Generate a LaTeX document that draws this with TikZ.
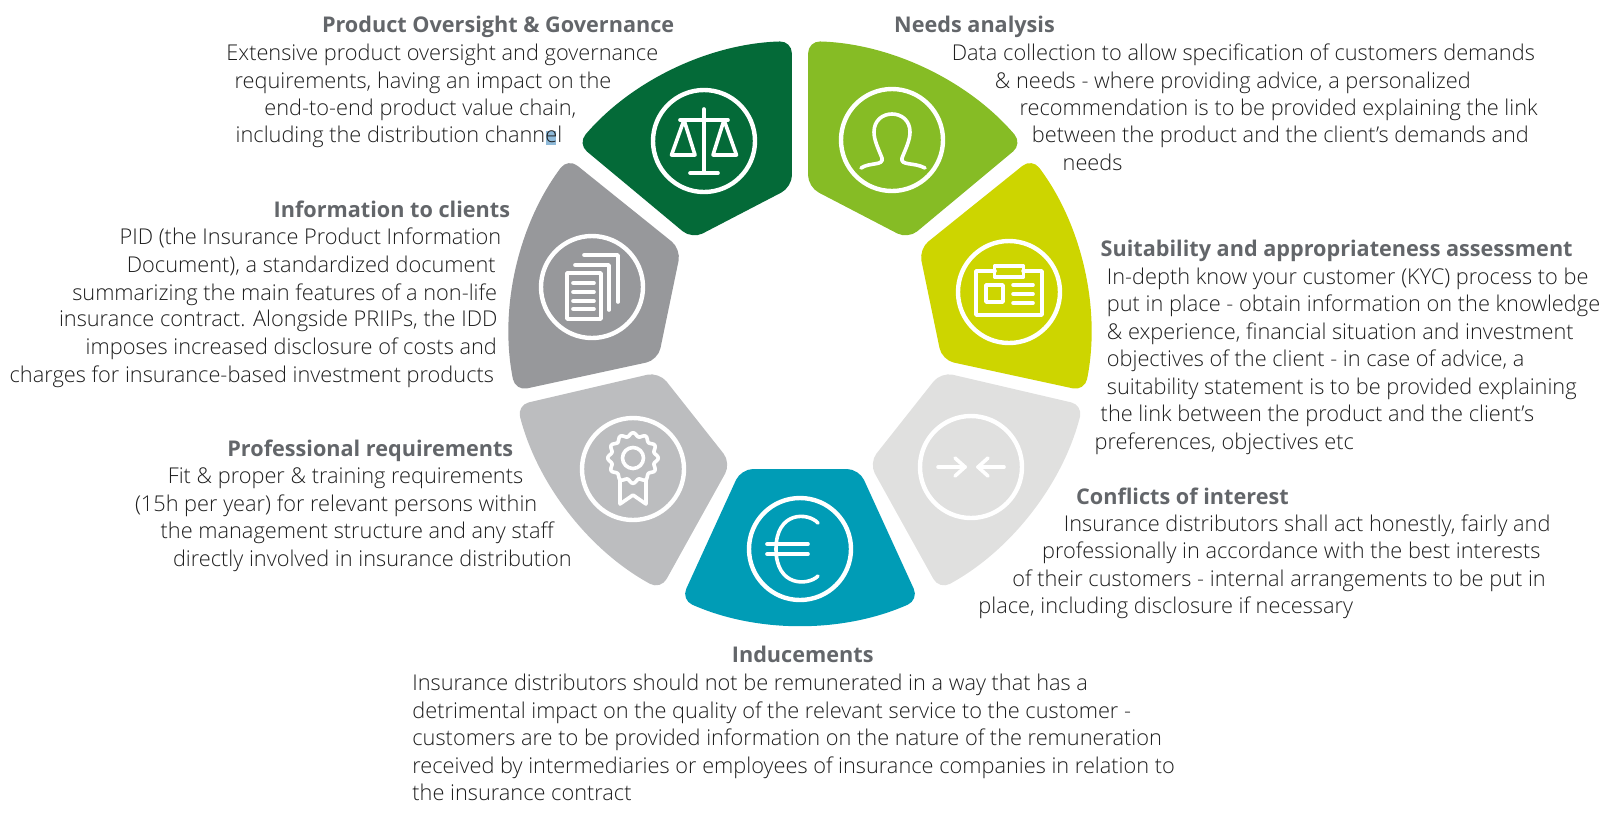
\documentclass[tikz,border=0pt]{standalone}
\usepackage{fontspec}
\usetikzlibrary{calc}
\setmainfont{Open Sans}
\newfontfamily\lightfont{Open Sans Light}
\definecolor{govgreen}{HTML}{046A38}
\definecolor{needgreen}{HTML}{86BC25}
\definecolor{suityellow}{HTML}{CDD500}
\definecolor{infogray}{HTML}{97989B}
\definecolor{profgray}{HTML}{BCBDBF}
\definecolor{confgray}{HTML}{E0E0DF}
\definecolor{indteal}{HTML}{009CB6}
\definecolor{headgray}{HTML}{63666A}
\definecolor{bodyink}{HTML}{1E1E1E}
\definecolor{selblue}{HTML}{8FBAD9}
\tikzset{
    petal/.style={rounded corners=6pt},
    ring/.style={draw=white, line width=2.2pt},
    icon/.style={draw=white, line width=1.8pt, line cap=round, line join=round},
    headtext/.style={anchor=base west, inner sep=0pt, yshift=-1.3pt, font=\fontsize{10.82pt}{12pt}\selectfont\bfseries, text=headgray},
    bodytext/.style={anchor=base west, inner sep=0pt, yshift=-1.3pt, font=\fontsize{10.88pt}{12pt}\lightfont, text=bodyink},
}
\begin{document}
\begin{tikzpicture}[x=0.5pt, y=-0.5pt]
    \useasboundingbox (0,0) rectangle (1611,816);
    \coordinate (c) at (800,333);

    % Segments
    \fill[govgreen, petal] ($(c)+(-91.6:292)$) arc[start angle=-91.6, end angle=-139.6, radius=292] -- (692,239) -- (792,187) -- cycle;
    \fill[needgreen, petal] ($(c)+(-88.4:292)$) arc[start angle=-88.4, end angle=-40.4, radius=292] -- (908,239) -- (808,187) -- cycle;
    \fill[suityellow, petal] ($(c)+(-37:290.5)$) arc[start angle=-37, end angle=11.5, radius=290.5] -- (942,360) -- (919,249) -- cycle;
    \fill[infogray, petal] ($(c)+(-143:290.5)$) arc[start angle=-143, end angle=-191.5, radius=290.5] -- (658,360) -- (681,249) -- cycle;
    \fill[confgray, petal] ($(c)+(14.3:292)$) arc[start angle=14.3, end angle=61.5, radius=292] -- (869,463) -- (941,372) -- cycle;
    \fill[profgray, petal] ($(c)+(165.7:292)$) arc[start angle=165.7, end angle=118.5, radius=292] -- (731,463) -- (659,372) -- cycle;
    \fill[indteal, petal] ($(c)+(66:292)$) arc[start angle=66, end angle=114, radius=292] -- (741,469) -- (859,469) -- cycle;

    % Rings
    \draw[ring] (704,141) circle (51);
    \draw[ring] (892,140) circle (51);
    \draw[ring] (592,287) circle (51);
    \draw[ring] (1009,292) circle (51);
    \draw[ring] (633,469) circle (51);
    \draw[ring] (971,467) circle (51);
    \draw[ring] (800,549) circle (51);

    % Scales
    \begin{scope}[shift={(704,141)}, yscale=-1]
        \draw[icon] (0,32) -- (0,-31);
        \draw[icon] (-14,-32) -- (14,-32);
        \draw[icon] (-24,21) -- (24,21);
        \draw[icon] (-20,21) -- (-32.5,-14) -- (-9,-14) -- cycle;
        \draw[icon] (20,21) -- (9,-14) -- (32.5,-14) -- cycle;
    \end{scope}

    % Person
    \begin{scope}[shift={(892,140)}, yscale=-1]
        \draw[icon] (-31,-28) .. controls (-22,-22) and (-8,-26) .. (-10,-18)
            .. controls (-14,-8) and (-18,0) .. (-18,8)
            .. controls (-18,32) and (18,32) .. (18,8)
            .. controls (18,0) and (14,-8) .. (10,-18)
            .. controls (8,-26) and (22,-22) .. (33,-28);
    \end{scope}

    % Documents
    \begin{scope}[shift={(592,287)}, yscale=-1]
        \draw[icon] (-25,14) rectangle (9,-32);
        \foreach \y in {4,-5,-14,-22} {
            \draw[icon] (-19,\y) -- (2,\y);
        }
        \draw[icon] (-17,22) -- (17,22) -- (17,-23);
        \draw[icon] (-8,32) -- (26,32) -- (26,-15);
    \end{scope}

    % Badge
    \begin{scope}[shift={(1009,292)}, yscale=-1]
        \draw[icon] (-14,21) -- (-33,21) -- (-33,-23) -- (33,-23) -- (33,21) -- (14,21);
        \draw[icon] (-14.5,26) rectangle (14.5,15);
        \draw[icon] (-23,7) rectangle (-6,-10);
        \foreach \y in {7,-2,-11} {
            \draw[icon] (4,\y) -- (24,\y);
        }
    \end{scope}

    % Rosette
    \begin{scope}[shift={(633,469)}, yscale=-1]
        \draw[icon] plot[domain=0:360, samples=97, smooth] ({(23.5+1.8*cos(12*\x))*cos(\x)}, {11+(23.5+1.8*cos(12*\x))*sin(\x)});
        \draw[icon] (0,11) circle (10.5);
        \draw[icon] (-13,-11) -- (-13,-35) -- (0,-26) -- (13,-35) -- (13,-11);
    \end{scope}

    % Arrows
    \begin{scope}[shift={(971,467)}, yscale=-1]
        \draw[icon] (-33,0) -- (-6,0);
        \draw[icon] (-16,9) -- (-6,0) -- (-16,-9);
        \draw[icon] (33,0) -- (7,0);
        \draw[icon] (17,9) -- (7,0) -- (17,-9);
    \end{scope}

    % Euro
    \begin{scope}[shift={(800,549)}, yscale=-1]
        \draw[icon] (18,26) .. controls (8,37) and (-24,38) .. (-24,0)
            .. controls (-24,-38) and (8,-37) .. (18,-27);
        \draw[icon] (-33,5) -- (8,5);
        \draw[icon] (-33,-5) -- (8,-5);
    \end{scope}

    % Product oversight
    \fill[selblue] (546,131) rectangle (556,145);
    \node[headtext] (govhead) at (321.6,30.3) {Product Oversight \& Governance};
    \node[bodytext] (gov1) at (226,58) {Extensive product oversight and governance};
    \node[bodytext] (gov2) at (234.2,85.8) {requirements, having an impact on the};
    \node[bodytext] (gov3) at (264,112.5) {end-to-end product value chain,};
    \node[bodytext] (gov4) at (235.3,140.2) {including the distribution channel};

    % Needs analysis
    \node[headtext] (needhead) at (893.8,30.3) {Needs analysis};
    \node[bodytext] (need1) at (951.4,58) {Data collection to allow specification of customers demands};
    \node[bodytext] (need2) at (994.5,85.8) {\& needs - where providing advice, a personalized};
    \node[bodytext] (need3) at (1019.2,112.5) {recommendation is to be provided explaining the link};
    \node[bodytext] (need4) at (1031.5,140.2) {between the product and the client’s demands and};
    \node[bodytext] (need5) at (1062.3,168) {needs};

    % Information
    \node[headtext] (infohead) at (273.3,215.2) {Information to clients};
    \node[bodytext] (info1) at (119.2,242) {PID (the Insurance Product Information};
    \node[bodytext] (info2) at (126.4,269.7) {Document), a standardized document};
    \node[bodytext] (info3) at (71.9,297.4) {summarizing the main features of a non-life};
    \node[bodytext] (info4) at (58.6,324.1) {insurance contract. Alongside PRIIPs, the IDD};
    \node[bodytext] (info5) at (85.3,351.9) {imposes increased disclosure of costs and};
    \node[bodytext] (info6) at (9.2,379.6) {charges for insurance-based investment products};

    % Suitability
    \node[headtext] (suithead) at (1100.3,254.3) {Suitability and appropriateness assessment};
    \node[bodytext] (suit1) at (1106.5,282) {In-depth know your customer (KYC) process to be};
    \node[bodytext] (suit2) at (1106.5,308.7) {put in place - obtain information on the knowledge};
    \node[bodytext] (suit3) at (1106.5,336.5) {\& experience, financial situation and investment};
    \node[bodytext] (suit4) at (1106.5,364.2) {objectives of the client - in case of advice, a};
    \node[bodytext] (suit5) at (1106.5,392) {suitability statement is to be provided explaining};
    \node[bodytext] (suit6) at (1100.3,418.7) {the link between the product and the client’s};
    \node[bodytext] (suit7) at (1094.2,446.4) {preferences, objectives etc};

    % Professional
    \node[headtext] (profhead) at (227,453.6) {Professional requirements};
    \node[bodytext] (prof1) at (167.5,481.3) {Fit \& proper \& training requirements};
    \node[bodytext] (prof2) at (134.6,509.1) {(15h per year) for relevant persons within};
    \node[bodytext] (prof3) at (160.3,535.8) {the management structure and any staff};
    \node[bodytext] (prof4) at (172.6,563.5) {directly involved in insurance distribution};

    % Conflicts
    \node[headtext] (confhead) at (1075.7,501.9) {Conflicts of interest};
    \node[bodytext] (conf1) at (1063.4,528.6) {Insurance distributors shall act honestly, fairly and};
    \node[bodytext] (conf2) at (1041.8,556.3) {professionally in accordance with the best interests};
    \node[bodytext] (conf3) at (1012,584.1) {of their customers - internal arrangements to be put in};
    \node[bodytext] (conf4) at (978,610.8) {place, including disclosure if necessary};

    % Inducements
    \node[headtext] (indhead) at (731.5,660.1) {Inducements};
    \node[bodytext] (ind1) at (412,687.8) {Insurance distributors should not be remunerated in a way that has a};
    \node[bodytext] (ind2) at (412,715.6) {detrimental impact on the quality of the relevant service to the customer -};
    \node[bodytext] (ind3) at (412,743.3) {customers are to be provided information on the nature of the remuneration};
    \node[bodytext] (ind4) at (412,771.1) {received by intermediaries or employees of insurance companies in relation to};
    \node[bodytext] (ind5) at (412,797.8) {the insurance contract};
\end{tikzpicture}
\end{document}
